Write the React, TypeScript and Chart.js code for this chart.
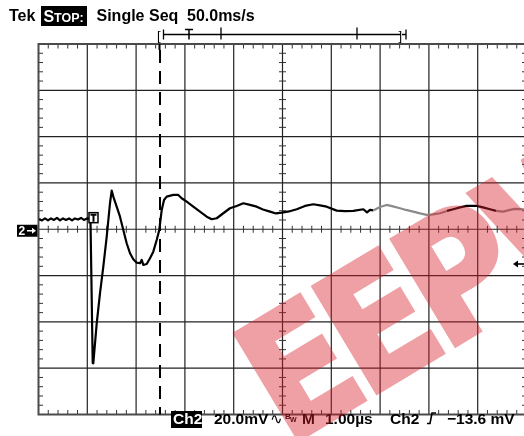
import React, { useEffect, useRef } from "react";
import { Chart, registerables } from "chart.js";

Chart.register(...registerables);

// ---- data (time in µs, 1 µs / div; voltage in mV, 20 mV / div) ----
const timeUs = [
  0.01, 0.072, 0.133, 0.195, 0.256, 0.318, 0.379, 0.441, 0.502, 0.564, 0.625, 0.687, 0.748, 0.81, 0.871, 0.932, 0.994, 1.045,
  1.066, 1.111, 1.123, 1.193, 1.26, 1.328, 1.398, 1.465, 1.5, 1.533, 1.602, 1.67, 1.738, 1.807, 1.875, 1.943, 2.012, 2.08,
  2.115, 2.148, 2.217, 2.285, 2.352, 2.422, 2.475, 2.525, 2.572, 2.627, 2.762, 2.865, 2.934, 3.037, 3.172, 3.309, 3.447,
  3.549, 3.652, 3.787, 3.924, 4.061, 4.197, 4.334, 4.471, 4.6, 4.744, 4.867, 4.984, 5.133, 5.291, 5.461, 5.631, 5.768,
  5.906, 6.111, 6.281, 6.451, 6.656, 6.732, 6.793, 6.861, 6.998, 7.135, 7.264, 7.408, 7.531, 7.68, 7.818, 7.955, 8.084,
  8.227, 8.371, 8.5, 8.637, 8.775, 8.98, 9.109, 9.252, 9.375, 9.525, 9.662, 9.764, 9.949,
];
const voltageMv = [
  4.45, 3.8, 4.67, 3.8, 4.67, 4.02, 4.88, 3.8, 4.67, 4.02, 4.67, 3.8, 4.67, 4.23, 4.88, 4.02, 4.67, 4.45,
  3.15, -57.76, -57.89, -40.61, -27.65, -16.16, -3.2, 11.23, 16.68, 14.08, 9.76, 5.44, -0.3, -6.05, -10.37, -12.96, -14.43, -14.69,
  -13.26, -15.42, -14.99, -12.53, -9.68, -4.62, -0.3, 8.34, 12.66, 14.08, 14.82, 14.82, 13.39, 11.92, 9.76, 7.6, 5.44,
  4.32, 4.75, 6.91, 9.07, 10.07, 11.23, 10.5, 9.76, 8.55, 7.6, 6.83, 7.17, 7.69, 8.64, 10.07, 10.8, 10.28,
  9.76, 8.04, 7.82, 7.91, 8.64, 7.26, 8.34, 8.12, 9.63, 10.5, 9.85, 9.07, 8.34, 7.6, 6.83, 6.18, 6.39,
  6.91, 7.91, 8.64, 9.42, 10.07, 10.07, 9.42, 8.64, 7.91, 7.6, 8.34, 8.77, 8.64,
];
const fadedRangesUs = [
  [6.85, 8.3],
  [9.3, 10],
];
const timeRangeUs = [0, 10];
const voltRangeMv = [-80, 80];
const timePerDivUs = 1;
const voltPerDivMv = 20;
const cursorTimeUs = 2.49;
const triggerTimeUs = 1.127;
const triggerMarkerMv = 5;
const triggerLevelMv = -15;
const groundLevelMv = 0;

const headerTexts = ["Tek", "S", "TOP:", "Single Seq", "50.0ms/s"];
const footerTexts = ["Ch2", "20.0mV", "∿", "B", "W", "M", "1.00µs", "Ch2", "−13.6 mV"];
const watermarkText = "EEPW";

const FONT = '"Liberation Sans", Arial, Helvetica, sans-serif';

const scopePlugin = {
  id: "scope",
  beforeDatasetsDraw(chart: any) {
    const { ctx, chartArea: a, scales } = chart;
    const xs = scales.x;
    const ys = scales.y;
    ctx.save();
    ctx.strokeStyle = "#222";
    ctx.lineWidth = 1.2;
    for (let t = timeRangeUs[0] + timePerDivUs; t < timeRangeUs[1]; t += timePerDivUs) {
      const x = xs.getPixelForValue(t);
      ctx.beginPath();
      ctx.moveTo(x, a.top);
      ctx.lineTo(x, a.bottom);
      ctx.stroke();
    }
    for (let v = voltRangeMv[0] + voltPerDivMv; v < voltRangeMv[1]; v += voltPerDivMv) {
      const y = ys.getPixelForValue(v);
      ctx.beginPath();
      ctx.moveTo(a.left, y);
      ctx.lineTo(a.right, y);
      ctx.stroke();
    }
    ctx.strokeStyle = "#333";
    ctx.lineWidth = 1;
    const xc = xs.getPixelForValue((timeRangeUs[0] + timeRangeUs[1]) / 2);
    const yc = ys.getPixelForValue((voltRangeMv[0] + voltRangeMv[1]) / 2);
    for (let k = 1; k < 50; k++) {
      if (k % 5 === 0) continue;
      const x = xs.getPixelForValue(timeRangeUs[0] + (k * timePerDivUs) / 5);
      ctx.beginPath();
      ctx.moveTo(x, a.top);
      ctx.lineTo(x, a.top + 4.5);
      ctx.moveTo(x, a.bottom);
      ctx.lineTo(x, a.bottom - 4.5);
      ctx.moveTo(x, yc - 3.5);
      ctx.lineTo(x, yc + 3.5);
      ctx.stroke();
    }
    for (let k = 1; k < 40; k++) {
      if (k % 5 === 0) continue;
      const y = ys.getPixelForValue(voltRangeMv[0] + (k * voltPerDivMv) / 5);
      ctx.beginPath();
      ctx.moveTo(a.left, y);
      ctx.lineTo(a.left + 4.5, y);
      ctx.moveTo(a.right, y);
      ctx.lineTo(a.right - 4.5, y);
      ctx.moveTo(xc - 3.5, y);
      ctx.lineTo(xc + 3.5, y);
      ctx.stroke();
    }
    ctx.strokeStyle = "#4a4a4a";
    ctx.lineWidth = 2;
    ctx.strokeRect(a.left, a.top, a.right - a.left, a.bottom - a.top);
    const cx = xs.getPixelForValue(cursorTimeUs);
    ctx.strokeStyle = "#000";
    ctx.lineWidth = 2;
    ctx.setLineDash([13, 8]);
    ctx.beginPath();
    ctx.moveTo(cx, a.top + 6);
    ctx.lineTo(cx, a.bottom);
    ctx.stroke();
    ctx.setLineDash([]);
    ctx.beginPath();
    ctx.moveTo(cx - 0.5, a.top);
    ctx.lineTo(cx - 0.5, a.top + 6);
    ctx.stroke();
    ctx.restore();
  },
  afterDraw(chart: any) {
    const { ctx, scales } = chart;
    const xs = scales.x;
    const ys = scales.y;
    ctx.save();
    ctx.textBaseline = "alphabetic";
    ctx.textAlign = "left";
    // ---- header ----
    ctx.fillStyle = "#000";
    ctx.font = `bold 16px ${FONT}`;
    ctx.fillText(headerTexts[0], 9, 21);
    ctx.fillRect(41, 6, 46, 20);
    ctx.fillStyle = "#fff";
    ctx.fillText(headerTexts[1], 43.5, 21.5);
    ctx.font = `bold 12.5px ${FONT}`;
    ctx.fillText(headerTexts[2], 54, 21.5);
    ctx.fillStyle = "#000";
    ctx.font = `bold 16px ${FONT}`;
    ctx.fillText(headerTexts[3], 96.5, 21);
    ctx.fillText(headerTexts[4], 187, 21);

    // ---- record bracket ----
    ctx.strokeStyle = "#000";
    ctx.lineWidth = 1.3;
    const by = 34.5;
    ctx.beginPath();
    ctx.moveTo(163, by);
    ctx.lineTo(401, by);
    ctx.moveTo(163.5, by - 5);
    ctx.lineTo(163.5, by + 5);
    ctx.moveTo(221, by - 7);
    ctx.lineTo(221, by + 5);
    ctx.moveTo(357, by - 7);
    ctx.lineTo(357, by + 5);
    ctx.moveTo(406, by - 5);
    ctx.lineTo(406, by + 5);
    ctx.moveTo(402, by);
    ctx.lineTo(406, by);
    ctx.stroke();
    ctx.font = `13px ${FONT}`;
    ctx.fillStyle = "#000";
    ctx.fillText("[", 157, 40);
    ctx.fillText("]", 398.5, 40);
    ctx.lineWidth = 1.5;
    ctx.beginPath();
    ctx.moveTo(185, 29.5);
    ctx.lineTo(193, 29.5);
    ctx.moveTo(189, 29.5);
    ctx.lineTo(189, 39.5);
    ctx.stroke();

    // ---- ground marker "2→" ----
    const gy = ys.getPixelForValue(groundLevelMv);
    ctx.fillStyle = "#000";
    ctx.fillRect(17, gy - 4.5, 20.5, 12);
    ctx.fillStyle = "#fff";
    ctx.font = `bold 12px ${FONT}`;
    ctx.fillText("2", 18.5, gy + 6);
    ctx.strokeStyle = "#fff";
    ctx.lineWidth = 1.5;
    ctx.beginPath();
    ctx.moveTo(27, gy + 1.5);
    ctx.lineTo(33, gy + 1.5);
    ctx.stroke();
    ctx.beginPath();
    ctx.moveTo(32, gy - 1.5);
    ctx.lineTo(36, gy + 1.5);
    ctx.lineTo(32, gy + 4.5);
    ctx.closePath();
    ctx.fill();

    // ---- trigger position marker ----
    const tx = xs.getPixelForValue(triggerTimeUs);
    const ty = ys.getPixelForValue(triggerMarkerMv);
    ctx.fillStyle = "#fff";
    ctx.fillRect(tx - 4.5, ty - 5, 9, 10);
    ctx.strokeStyle = "#000";
    ctx.lineWidth = 1.5;
    ctx.strokeRect(tx - 4.5, ty - 5, 9, 10);
    ctx.beginPath();
    ctx.moveTo(tx - 3, ty - 3);
    ctx.lineTo(tx + 3, ty - 3);
    ctx.moveTo(tx, ty - 3);
    ctx.lineTo(tx, ty + 4);
    ctx.lineWidth = 2;
    ctx.stroke();

    // ---- trigger level marker ----
    const ly = ys.getPixelForValue(triggerLevelMv);
    ctx.strokeStyle = "#000";
    ctx.lineWidth = 1.6;
    ctx.beginPath();
    ctx.moveTo(517, ly);
    ctx.lineTo(524, ly);
    ctx.stroke();
    ctx.beginPath();
    ctx.moveTo(513, ly);
    ctx.lineTo(518, ly - 3.5);
    ctx.lineTo(518, ly + 3.5);
    ctx.closePath();
    ctx.fillStyle = "#000";
    ctx.fill();

    // ---- footer ----
    const fy = 424;
    ctx.fillStyle = "#000";
    ctx.fillRect(171, 411, 31, 17);
    ctx.fillStyle = "#fff";
    ctx.font = `bold 15.5px ${FONT}`;
    ctx.fillText(footerTexts[0], 173, fy);
    ctx.fillStyle = "#000";
    ctx.fillText(footerTexts[1], 214, fy);
    ctx.font = `15px "DejaVu Sans", sans-serif`;
    ctx.fillText(footerTexts[2], 270, fy);
    ctx.font = `bold 8px ${FONT}`;
    ctx.fillText(footerTexts[3], 285, 419);
    ctx.font = `bold 7px ${FONT}`;
    ctx.fillText(footerTexts[4], 290, 422);
    ctx.font = `bold 15.5px ${FONT}`;
    ctx.fillText(footerTexts[5], 302, fy);
    ctx.fillText(footerTexts[6], 325, fy);
    ctx.fillText(footerTexts[7], 390, fy);
    ctx.fillText(footerTexts[8], 447, fy);
    ctx.strokeStyle = "#000";
    ctx.lineWidth = 1.6;
    ctx.beginPath();
    ctx.moveTo(427, fy - 0.5);
    ctx.lineTo(430, fy - 0.5);
    ctx.lineTo(432, fy - 11);
    ctx.lineTo(436, fy - 11);
    ctx.stroke();

    // ---- watermark (drawn opaque offscreen, then blended) ----
    const off = document.createElement("canvas");
    off.width = chart.width;
    off.height = chart.height;
    const o = off.getContext("2d") as CanvasRenderingContext2D;
    o.translate(236.7, 336.7);
    o.rotate((-31 * Math.PI) / 180);
    o.scale(0.92, 1.05);
    o.font = `bold 160px "DejaVu Sans", sans-serif`;
    (o as any).letterSpacing = "-10px";
    o.fillStyle = "rgb(215, 30, 40)";
    o.strokeStyle = "rgb(215, 30, 40)";
    o.lineWidth = 5;
    o.lineJoin = "miter";
    o.fillText(watermarkText, -14, 114);
    o.strokeText(watermarkText, -14, 114);
    ctx.globalAlpha = 0.42;
    ctx.drawImage(off, 0, 0);
    ctx.globalAlpha = 1;

    ctx.restore();
  },
};

export default function App() {
  const ref = useRef<HTMLCanvasElement | null>(null);
  useEffect(() => {
    const canvas = ref.current;
    if (!canvas) return;
    const points = timeUs.map((t, i) => ({ x: t, y: voltageMv[i] }));
    const chart = new Chart(canvas, {
      type: "line",
      data: {
        datasets: [
          {
            data: points,
            borderColor: "#000",
            borderWidth: 2.2,
            pointRadius: 0,
            tension: 0,
            borderJoinStyle: "round",
            segment: {
              borderColor: (c: any) => {
                const x = c.p0.parsed.x;
                return fadedRangesUs.some(([a, b]) => x >= a && x < b) ? "#8a8a8a" : "#000";
              },
            },
          },
        ],
      },
      options: {
        responsive: false,
        animation: false,
        layout: { padding: { left: 38.5, right: 13.5, top: 44, bottom: 21.5 } },
        plugins: { legend: { display: false }, tooltip: { enabled: false } },
        scales: {
          x: { type: "linear", display: false, min: timeRangeUs[0], max: timeRangeUs[1] },
          y: { type: "linear", display: false, min: voltRangeMv[0], max: voltRangeMv[1] },
        },
      },
      plugins: [scopePlugin],
    } as any);
    return () => chart.destroy();
  }, []);
  return (
    <div style={{ position: "fixed", left: 0, top: 0, width: 540, height: 436, background: "#fff" }}>
      <canvas ref={ref} width={540} height={436} style={{ width: 540, height: 436, display: "block" }} />
    </div>
  );
}
